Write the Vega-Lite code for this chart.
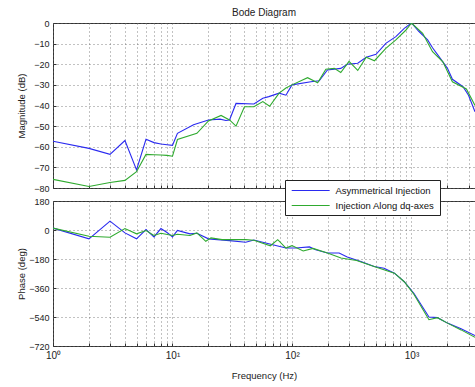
{
  "$schema": "https://vega.github.io/schema/vega-lite/v6.json",
  "background": "white",
  "padding": {"left": 15, "top": 7, "right": 0, "bottom": 4},
  "bounds": "flush",
  "config": {
    "font": "Liberation Sans",
    "view": {"stroke": "#333", "strokeWidth": 1},
    "axis": {
      "domain": false,
      "grid": true,
      "gridColor": "#666",
      "gridDash": [1, 3],
      "gridOpacity": 0.8,
      "tickColor": "#333",
      "tickSize": -3,
      "labelFont": "Liberation Sans",
      "labelFontSize": 9,
      "labelColor": "#222",
      "labelPadding": 7,
      "labelFlush": false,
      "titleFont": "Liberation Sans",
      "titleFontSize": 9.5,
      "titleFontWeight": "normal",
      "titleColor": "#222"
    },
    "legend": {
      "labelFont": "Liberation Sans",
      "labelFontSize": 9.5,
      "labelColor": "#111"
    }
  },
  "datasets": {
    "mag": [
      {"f": 1, "s": "Asymmetrical Injection", "db": -57.3},
      {"f": 2, "s": "Asymmetrical Injection", "db": -60.8},
      {"f": 3, "s": "Asymmetrical Injection", "db": -63.7},
      {"f": 4, "s": "Asymmetrical Injection", "db": -57},
      {"f": 5, "s": "Asymmetrical Injection", "db": -71.2},
      {"f": 6, "s": "Asymmetrical Injection", "db": -56.4},
      {"f": 7, "s": "Asymmetrical Injection", "db": -58},
      {"f": 8, "s": "Asymmetrical Injection", "db": -58.7},
      {"f": 9, "s": "Asymmetrical Injection", "db": -59},
      {"f": 10, "s": "Asymmetrical Injection", "db": -59.3},
      {"f": 11, "s": "Asymmetrical Injection", "db": -53.5},
      {"f": 15, "s": "Asymmetrical Injection", "db": -49.3},
      {"f": 20, "s": "Asymmetrical Injection", "db": -47},
      {"f": 25, "s": "Asymmetrical Injection", "db": -46.6},
      {"f": 28, "s": "Asymmetrical Injection", "db": -47.3},
      {"f": 30, "s": "Asymmetrical Injection", "db": -47},
      {"f": 34, "s": "Asymmetrical Injection", "db": -39},
      {"f": 48, "s": "Asymmetrical Injection", "db": -39.3},
      {"f": 57, "s": "Asymmetrical Injection", "db": -36.5},
      {"f": 64, "s": "Asymmetrical Injection", "db": -35.7},
      {"f": 78, "s": "Asymmetrical Injection", "db": -34},
      {"f": 89, "s": "Asymmetrical Injection", "db": -35},
      {"f": 100, "s": "Asymmetrical Injection", "db": -30},
      {"f": 144, "s": "Asymmetrical Injection", "db": -28.5},
      {"f": 169, "s": "Asymmetrical Injection", "db": -28},
      {"f": 198, "s": "Asymmetrical Injection", "db": -22.8},
      {"f": 256, "s": "Asymmetrical Injection", "db": -22},
      {"f": 290, "s": "Asymmetrical Injection", "db": -20},
      {"f": 355, "s": "Asymmetrical Injection", "db": -19.5},
      {"f": 418, "s": "Asymmetrical Injection", "db": -16.6},
      {"f": 505, "s": "Asymmetrical Injection", "db": -15.2},
      {"f": 610, "s": "Asymmetrical Injection", "db": -9.9},
      {"f": 740, "s": "Asymmetrical Injection", "db": -6.6},
      {"f": 870, "s": "Asymmetrical Injection", "db": -2.6},
      {"f": 1000, "s": "Asymmetrical Injection", "db": 0},
      {"f": 1150, "s": "Asymmetrical Injection", "db": -4},
      {"f": 1365, "s": "Asymmetrical Injection", "db": -8.2},
      {"f": 1500, "s": "Asymmetrical Injection", "db": -12},
      {"f": 1700, "s": "Asymmetrical Injection", "db": -16.3},
      {"f": 2000, "s": "Asymmetrical Injection", "db": -22},
      {"f": 2200, "s": "Asymmetrical Injection", "db": -27.3},
      {"f": 2700, "s": "Asymmetrical Injection", "db": -30.9},
      {"f": 3000, "s": "Asymmetrical Injection", "db": -35},
      {"f": 3400, "s": "Asymmetrical Injection", "db": -43},
      {"f": 1, "s": "Injection Along dq-axes", "db": -75.8},
      {"f": 2, "s": "Injection Along dq-axes", "db": -79.3},
      {"f": 3, "s": "Injection Along dq-axes", "db": -77.3},
      {"f": 4, "s": "Injection Along dq-axes", "db": -76.3},
      {"f": 5, "s": "Injection Along dq-axes", "db": -72.1},
      {"f": 6, "s": "Injection Along dq-axes", "db": -63.7},
      {"f": 7, "s": "Injection Along dq-axes", "db": -63.9},
      {"f": 8, "s": "Injection Along dq-axes", "db": -64},
      {"f": 9, "s": "Injection Along dq-axes", "db": -64.2},
      {"f": 10, "s": "Injection Along dq-axes", "db": -64.6},
      {"f": 11, "s": "Injection Along dq-axes", "db": -56.5},
      {"f": 16, "s": "Injection Along dq-axes", "db": -53.5},
      {"f": 20, "s": "Injection Along dq-axes", "db": -47.5},
      {"f": 25.5, "s": "Injection Along dq-axes", "db": -44.8},
      {"f": 30, "s": "Injection Along dq-axes", "db": -47},
      {"f": 34, "s": "Injection Along dq-axes", "db": -50},
      {"f": 40, "s": "Injection Along dq-axes", "db": -40.6},
      {"f": 48, "s": "Injection Along dq-axes", "db": -40.6},
      {"f": 57, "s": "Injection Along dq-axes", "db": -38.1},
      {"f": 65, "s": "Injection Along dq-axes", "db": -40.4},
      {"f": 78, "s": "Injection Along dq-axes", "db": -34},
      {"f": 89, "s": "Injection Along dq-axes", "db": -31.5},
      {"f": 100, "s": "Injection Along dq-axes", "db": -30},
      {"f": 135, "s": "Injection Along dq-axes", "db": -26.5},
      {"f": 164, "s": "Injection Along dq-axes", "db": -29},
      {"f": 192, "s": "Injection Along dq-axes", "db": -22.4},
      {"f": 226, "s": "Injection Along dq-axes", "db": -22},
      {"f": 256, "s": "Injection Along dq-axes", "db": -24},
      {"f": 300, "s": "Injection Along dq-axes", "db": -18.6},
      {"f": 355, "s": "Injection Along dq-axes", "db": -23},
      {"f": 418, "s": "Injection Along dq-axes", "db": -16.6},
      {"f": 490, "s": "Injection Along dq-axes", "db": -18.3},
      {"f": 610, "s": "Injection Along dq-axes", "db": -12.3},
      {"f": 740, "s": "Injection Along dq-axes", "db": -8.2},
      {"f": 900, "s": "Injection Along dq-axes", "db": -3.4},
      {"f": 1000, "s": "Injection Along dq-axes", "db": 0},
      {"f": 1240, "s": "Injection Along dq-axes", "db": -5},
      {"f": 1500, "s": "Injection Along dq-axes", "db": -13.9},
      {"f": 1830, "s": "Injection Along dq-axes", "db": -18.8},
      {"f": 2200, "s": "Injection Along dq-axes", "db": -28.5},
      {"f": 2880, "s": "Injection Along dq-axes", "db": -32},
      {"f": 3400, "s": "Injection Along dq-axes", "db": -40}
    ],
    "phase": [
      {"f": 1, "s": "Asymmetrical Injection", "deg": 12},
      {"f": 2, "s": "Asymmetrical Injection", "deg": -55},
      {"f": 3, "s": "Asymmetrical Injection", "deg": 55},
      {"f": 4, "s": "Asymmetrical Injection", "deg": -18},
      {"f": 5, "s": "Asymmetrical Injection", "deg": -55},
      {"f": 6, "s": "Asymmetrical Injection", "deg": 3},
      {"f": 7, "s": "Asymmetrical Injection", "deg": -43},
      {"f": 8, "s": "Asymmetrical Injection", "deg": 9},
      {"f": 9, "s": "Asymmetrical Injection", "deg": -15},
      {"f": 10, "s": "Asymmetrical Injection", "deg": -43},
      {"f": 11, "s": "Asymmetrical Injection", "deg": -3},
      {"f": 14, "s": "Asymmetrical Injection", "deg": -24},
      {"f": 16, "s": "Asymmetrical Injection", "deg": -20},
      {"f": 20, "s": "Asymmetrical Injection", "deg": -55},
      {"f": 30, "s": "Asymmetrical Injection", "deg": -66},
      {"f": 41, "s": "Asymmetrical Injection", "deg": -76},
      {"f": 48, "s": "Asymmetrical Injection", "deg": -62},
      {"f": 69, "s": "Asymmetrical Injection", "deg": -91},
      {"f": 89, "s": "Asymmetrical Injection", "deg": -112},
      {"f": 108, "s": "Asymmetrical Injection", "deg": -112},
      {"f": 140, "s": "Asymmetrical Injection", "deg": -105},
      {"f": 158, "s": "Asymmetrical Injection", "deg": -122},
      {"f": 198, "s": "Asymmetrical Injection", "deg": -143},
      {"f": 248, "s": "Asymmetrical Injection", "deg": -143},
      {"f": 290, "s": "Asymmetrical Injection", "deg": -168},
      {"f": 377, "s": "Asymmetrical Injection", "deg": -196},
      {"f": 487, "s": "Asymmetrical Injection", "deg": -227},
      {"f": 590, "s": "Asymmetrical Injection", "deg": -237},
      {"f": 720, "s": "Asymmetrical Injection", "deg": -268},
      {"f": 870, "s": "Asymmetrical Injection", "deg": -321},
      {"f": 1050, "s": "Asymmetrical Injection", "deg": -394},
      {"f": 1400, "s": "Asymmetrical Injection", "deg": -540},
      {"f": 1650, "s": "Asymmetrical Injection", "deg": -544},
      {"f": 2000, "s": "Asymmetrical Injection", "deg": -578},
      {"f": 2600, "s": "Asymmetrical Injection", "deg": -613},
      {"f": 3400, "s": "Asymmetrical Injection", "deg": -655},
      {"f": 1, "s": "Injection Along dq-axes", "deg": 12},
      {"f": 2, "s": "Injection Along dq-axes", "deg": -39},
      {"f": 3, "s": "Injection Along dq-axes", "deg": -45},
      {"f": 4, "s": "Injection Along dq-axes", "deg": 9},
      {"f": 5, "s": "Injection Along dq-axes", "deg": -24},
      {"f": 6, "s": "Injection Along dq-axes", "deg": -3},
      {"f": 7, "s": "Injection Along dq-axes", "deg": -34},
      {"f": 8, "s": "Injection Along dq-axes", "deg": -20},
      {"f": 10, "s": "Injection Along dq-axes", "deg": -34},
      {"f": 11, "s": "Injection Along dq-axes", "deg": -26},
      {"f": 14, "s": "Injection Along dq-axes", "deg": -34},
      {"f": 16, "s": "Injection Along dq-axes", "deg": -18},
      {"f": 19, "s": "Injection Along dq-axes", "deg": -70},
      {"f": 21, "s": "Injection Along dq-axes", "deg": -49},
      {"f": 26, "s": "Injection Along dq-axes", "deg": -60},
      {"f": 41, "s": "Injection Along dq-axes", "deg": -60},
      {"f": 48, "s": "Injection Along dq-axes", "deg": -64},
      {"f": 66, "s": "Injection Along dq-axes", "deg": -98},
      {"f": 76, "s": "Injection Along dq-axes", "deg": -60},
      {"f": 89, "s": "Injection Along dq-axes", "deg": -112},
      {"f": 100, "s": "Injection Along dq-axes", "deg": -97},
      {"f": 124, "s": "Injection Along dq-axes", "deg": -130},
      {"f": 150, "s": "Injection Along dq-axes", "deg": -114},
      {"f": 198, "s": "Injection Along dq-axes", "deg": -143},
      {"f": 257, "s": "Injection Along dq-axes", "deg": -174},
      {"f": 347, "s": "Injection Along dq-axes", "deg": -189},
      {"f": 487, "s": "Injection Along dq-axes", "deg": -227},
      {"f": 720, "s": "Injection Along dq-axes", "deg": -268},
      {"f": 870, "s": "Injection Along dq-axes", "deg": -321},
      {"f": 1050, "s": "Injection Along dq-axes", "deg": -400},
      {"f": 1400, "s": "Injection Along dq-axes", "deg": -557},
      {"f": 1650, "s": "Injection Along dq-axes", "deg": -544},
      {"f": 2000, "s": "Injection Along dq-axes", "deg": -578},
      {"f": 2600, "s": "Injection Along dq-axes", "deg": -620},
      {"f": 3400, "s": "Injection Along dq-axes", "deg": -666}
    ]
  },
  "spacing": 13,
  "resolve": {"legend": {"color": "independent"}},
  "vconcat": [
    {
      "title": {"text": "Bode Diagram", "fontSize": 10, "fontWeight": "normal", "color": "#222", "offset": 1},
      "width": 422,
      "height": 165,
      "data": {"name": "mag"},
      "mark": {"type": "line", "strokeWidth": 1.1, "clip": true},
      "encoding": {
        "x": {
          "field": "f", "type": "quantitative",
          "scale": {"type": "log", "domain": [1, 3400], "nice": false},
          "axis": {
            "values": [1, 2, 3, 4, 5, 6, 7, 8, 9, 10, 20, 30, 40, 50, 60, 70, 80, 90, 100, 200, 300, 400, 500, 600, 700, 800, 900, 1000, 2000, 3000],
            "labels": false, "title": null
          }
        },
        "y": {
          "field": "db", "type": "quantitative",
          "scale": {"domain": [-80, 0], "nice": false},
          "axis": {
            "values": [0, -10, -20, -30, -40, -50, -60, -70, -80],
            "title": "Magnitude (dB)", "titleX": -32, "titleY": 82.5, "titleBaseline": "middle", "titleAlign": "center"
          }
        },
        "color": {
          "field": "s", "type": "nominal",
          "scale": {"domain": ["Asymmetrical Injection", "Injection Along dq-axes"], "range": ["#2a2af0", "#2faa2f"]},
          "legend": null
        }
      }
    },
    {
      "width": 422,
      "height": 145,
      "data": {"name": "phase"},
      "mark": {"type": "line", "strokeWidth": 1.1, "clip": true},
      "encoding": {
        "x": {
          "field": "f", "type": "quantitative",
          "scale": {"type": "log", "domain": [1, 3400], "nice": false},
          "axis": {
            "values": [1, 2, 3, 4, 5, 6, 7, 8, 9, 10, 20, 30, 40, 50, 60, 70, 80, 90, 100, 200, 300, 400, 500, 600, 700, 800, 900, 1000, 2000, 3000],
            "labelExpr": "datum.value == 1 ? '10⁰' : datum.value == 10 ? '10¹' : datum.value == 100 ? '10²' : datum.value == 1000 ? '10³' : ''",
            "labelFontSize": 10,
            "title": "Frequency  (Hz)", "titlePadding": 10
          }
        },
        "y": {
          "field": "deg", "type": "quantitative",
          "scale": {"domain": [-720, 180], "nice": false},
          "axis": {
            "values": [180, 0, -180, -360, -540, -720],
            "title": "Phase (deg)", "titleX": -32, "titleY": 72.5, "titleBaseline": "middle", "titleAlign": "center"
          }
        },
        "color": {
          "field": "s", "type": "nominal",
          "scale": {"domain": ["Asymmetrical Injection", "Injection Along dq-axes"], "range": ["#2a2af0", "#2faa2f"]},
          "legend": {
            "title": null,
            "orient": "none",
            "legendX": 232,
            "legendY": -21,
            "fillColor": "white",
            "strokeColor": "#222",
            "padding": 5,
            "rowPadding": 5,
            "symbolType": "M-0.8,0H7.2",
            "symbolSize": 90,
            "symbolStrokeWidth": 1.1,
            "labelOffset": 34.5
          }
        }
      }
    }
  ]
}
